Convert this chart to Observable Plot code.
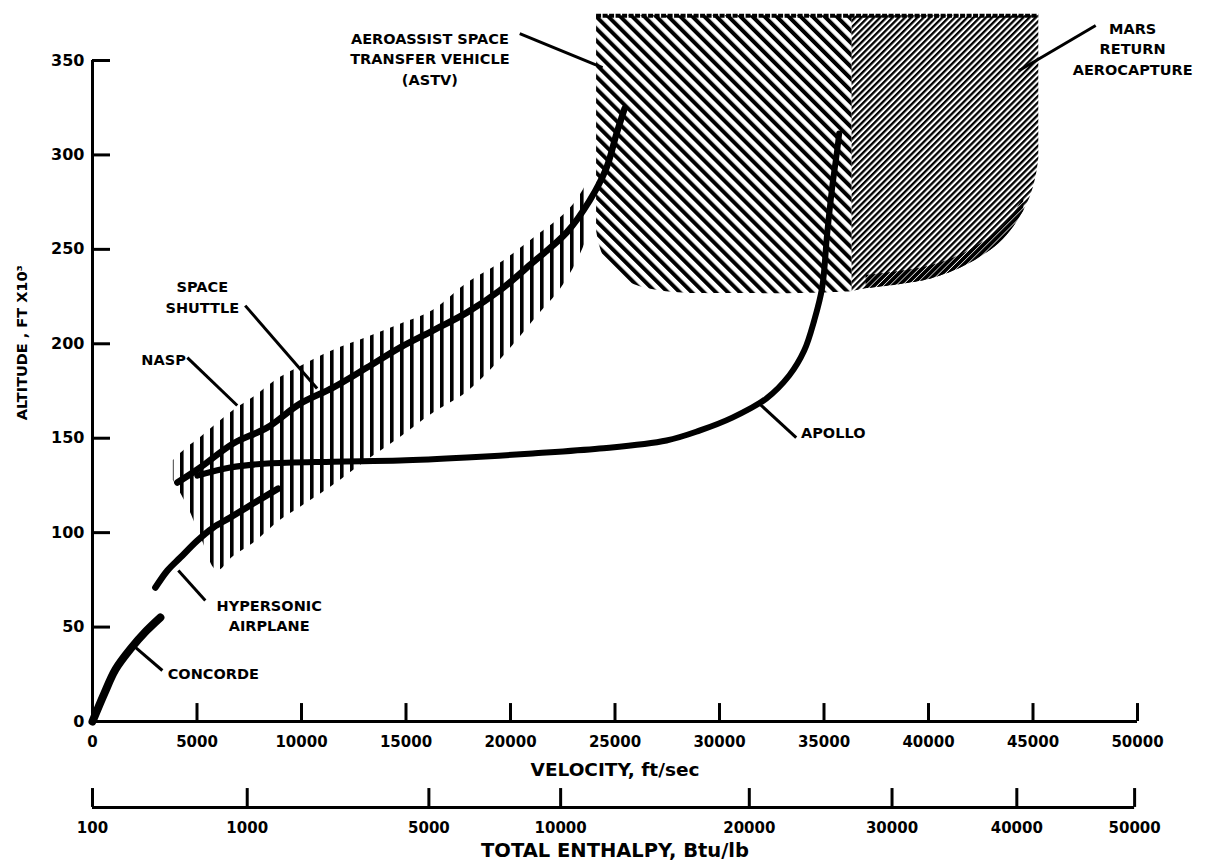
<!DOCTYPE html>
<html>
<head>
<meta charset="utf-8">
<script src="https://cdn.jsdelivr.net/npm/d3@7"></script>
<script src="https://cdn.jsdelivr.net/npm/@observablehq/plot@0.6"></script>
<style>
  html, body { margin: 0; padding: 0; background: #fff; }
  svg { display: block; }
</style>
</head>
<body>
<div id="chart"></div>
<script>
// ---------- data (velocity ft/sec, altitude ft x 10^3) ----------
const yTicks = [0, 50, 100, 150, 200, 250, 300, 350];
const xTicks = [0, 5000, 10000, 15000, 20000, 25000, 30000, 35000, 40000, 45000, 50000];
const enthLabels = ["100", "1000", "5000", "10000", "20000", "30000", "40000", "50000"];
const enthAtVelocity = [0, 7403, 16095, 22399, 31426, 38255, 44226, 49862];

const concordeV   = [0, 573, 1098, 1863, 2579, 3248];
const concordeAlt = [0, 15.0, 27.5, 39.0, 48.0, 55.1];

const hypersonicV   = [3009, 3582, 4203, 5015, 5779, 6591, 7689, 8883];
const hypersonicAlt = [70.9, 79.9, 86.8, 95.8, 102.7, 108.0, 115.4, 123.3];

const shuttleV   = [4060, 5158, 6734, 8358, 9934, 11510, 13134, 14710, 16286, 17910, 19486, 21062, 22686, 23785, 24596, 25074, 25456];
const shuttleAlt = [126.5, 134.5, 147.2, 155.6, 168.3, 176.8, 187.4, 198.0, 207.0, 216.5, 228.2, 243.0, 258.9, 275.8, 293.3, 311.3, 324.5];

const apolloV   = [5015, 6591, 8358, 11510, 14710, 17910, 21062, 24262, 27462, 29038, 30614, 32238, 33336, 34053, 34530, 34913, 35151, 35390, 35629, 35725];
const apolloAlt = [130.2, 134.5, 136.6, 137.6, 138.2, 139.8, 141.9, 144.5, 148.8, 154.0, 160.9, 171.0, 183.2, 196.4, 212.3, 229.8, 258.3, 282.7, 302.3, 311.3];

// NASP / shuttle corridor (hatched band)
const bandV     = [3869, 4537, 5158, 5970, 6734, 7689, 8979, 9934, 11510, 13134, 14710, 16286, 17910, 19486, 21396, 22351, 23163, 23785];
const bandUpper = [138.2, 145.1, 150.3, 157.8, 164.6, 171.5, 182.1, 187.9, 196.4, 203.3, 210.2, 217.6, 231.9, 242.5, 258.3, 266.3, 275.8, 287.5];
const bandLower = [127.6, 114.3, 98.5, 79.9, 87.3, 94.2, 106.4, 113.3, 124.9, 138.2, 150.3, 163.1, 174.2, 191.1, 216.0, 228.2, 243.0, 258.9];

// ASTV corridor
const astvV      = [24119, 24262, 24501, 24883, 25456, 26172, 27462, 29038, 30614, 33814, 36345];
const astvBottom = [259.9, 252.0, 245.1, 239.8, 234.0, 230.3, 227.6, 226.6, 226.6, 226.6, 227.6];
const corridorTop = 373.7;

// Mars return aerocapture corridor
const marsV      = [36345, 37013, 38590, 40166, 41790, 43366, 44082, 44560, 44942, 45181, 45277];
const marsBottom = [227.6, 229.2, 231.3, 234.5, 241.4, 253.0, 262.0, 270.5, 280.0, 290.6, 298.0];

// annotation labels (middle anchored)
const labelText = ["AEROASSIST SPACE\nTRANSFER VEHICLE\n(ASTV)", "MARS\nRETURN\nAEROCAPTURE", "SPACE\nSHUTTLE", "NASP", "HYPERSONIC\nAIRPLANE", "CONCORDE"];
const labelV    = [16143, 49766, 5254, 3400, 8453, 5779];
const labelAlt  = [351.5, 356.8, 225.5, 192.2, 56.6, 25.9];
// start anchored label
const apolloLabel = ["APOLLO"];
const apolloLabelV = [33900];
const apolloLabelAlt = [152.5];

// leader lines
const leaderV1   = [20442, 48000, 7307, 4537, 4107, 2054, 31903];
const leaderAlt1 = [364.2, 368.5, 220.2, 192.7, 79.9, 39.2, 168.3];
const leaderV2   = [24405, 44320, 10746, 6925, 5397, 3343, 33671];
const leaderAlt2 = [346.2, 344.6, 176.3, 167.3, 64.1, 27.0, 150.3];

// ---------- tables ----------
const pts = (vs, as) => vs.map((v, i) => ({v, a: as[i]}));
const concorde = pts(concordeV, concordeAlt);
const hypersonic = pts(hypersonicV, hypersonicAlt);
const shuttle = pts(shuttleV, shuttleAlt);
const apollo = pts(apolloV, apolloAlt);
const band = bandV.map((v, i) => ({v, lo: bandLower[i], hi: bandUpper[i]}));
const astv = astvV.map((v, i) => ({v, lo: astvBottom[i], hi: corridorTop}));
const mars = marsV.map((v, i) => ({v, lo: marsBottom[i], hi: corridorTop}));
const labels = labelText.map((t, i) => ({t, v: labelV[i], a: labelAlt[i]}));
const apolloLab = apolloLabel.map((t, i) => ({t, v: apolloLabelV[i], a: apolloLabelAlt[i]}));
const leaders = leaderV1.map((v, i) => ({v1: v, a1: leaderAlt1[i], v2: leaderV2[i], a2: leaderAlt2[i]}));
const enth = enthLabels.map((l, i) => ({l, v: enthAtVelocity[i]}));

const ENTH_AXIS = -45.5;   // second axis placed below the chart (altitude units)
const FONT = "DejaVu Sans";

const svg = Plot.plot({
  width: 1205,
  height: 861,
  marginLeft: 92,
  marginRight: 68,
  marginTop: 60,
  marginBottom: 140,
  x: {domain: [0, 50000]},
  y: {domain: [0, 350]},
  style: {fontFamily: FONT, fontWeight: "bold", background: "white", color: "black", overflow: "visible"},
  marks: [
    // hatched corridors
    Plot.areaY(band, {x: "v", y1: "lo", y2: "hi", fill: "url(#hatchV)", curve: "catmull-rom"}),
    Plot.areaY(astv, {x: "v", y1: "lo", y2: "hi", fill: "url(#hatchA)", curve: "catmull-rom"}),
    Plot.areaY(mars, {x: "v", y1: "lo", y2: "hi", fill: "url(#hatchM)", curve: "catmull-rom"}),
    // darker, blotchy rim along the bottom of the Mars corridor
    Plot.areaY(mars.slice(1, 8), {x: "v", y1: "lo", y2: d => d.lo + 7, fill: "url(#hatchDark)", curve: "catmull-rom"}),
    Plot.ruleY([corridorTop], {x1: astvV[0], x2: marsV[marsV.length - 1], stroke: "black", strokeWidth: 4, strokeDasharray: "5,1.5"}),

    // trajectories
    Plot.line(concorde, {x: "v", y: "a", stroke: "black", strokeWidth: 8, curve: "catmull-rom", strokeLinecap: "round"}),
    Plot.line(hypersonic, {x: "v", y: "a", stroke: "black", strokeWidth: 6.5, curve: "catmull-rom", strokeLinecap: "round"}),
    Plot.line(shuttle, {x: "v", y: "a", stroke: "black", strokeWidth: 6.5, curve: "catmull-rom", strokeLinecap: "round"}),
    Plot.line(apollo, {x: "v", y: "a", stroke: "black", strokeWidth: 6, curve: "catmull-rom", strokeLinecap: "round"}),

    // leaders and labels
    Plot.link(leaders, {x1: "v1", y1: "a1", x2: "v2", y2: "a2", stroke: "black", strokeWidth: 3}),
    Plot.text(labels, {x: "v", y: "a", text: "t", fontSize: 14.5, lineHeight: 1.42, textAnchor: "middle", fill: "black"}),
    Plot.text(apolloLab, {x: "v", y: "a", text: "t", fontSize: 14.5, textAnchor: "start", fill: "black"}),

    // main axes
    Plot.ruleX([0], {y1: 0, y2: 350, stroke: "black", strokeWidth: 3}),
    Plot.ruleY([0], {x1: 0, x2: 50000, stroke: "black", strokeWidth: 3}),
    Plot.ruleY(yTicks.slice(1), {x1: 0, x2: 860, stroke: "black", strokeWidth: 3}),
    Plot.ruleX(xTicks.slice(1), {y1: 0, y2: 9.5, stroke: "black", strokeWidth: 3}),
    Plot.axisY({ticks: yTicks, tickSize: 0, tickPadding: 8, fontSize: 16, tickFormat: "d"}),
    Plot.axisX({ticks: xTicks, tickSize: 0, tickPadding: 15, fontSize: 15, tickFormat: "d"}),
    Plot.text(["ALTITUDE , FT X10³"], {x: -3343, y: 200.6, rotate: -90, fontSize: 14.5, fill: "black"}),
    Plot.text(["VELOCITY, ft/sec"], {x: 25000, y: 0, dy: 49, fontSize: 18.5, fill: "black"}),

    // total enthalpy axis
    Plot.ruleY([ENTH_AXIS], {x1: enthAtVelocity[0], x2: enthAtVelocity[enthAtVelocity.length - 1], stroke: "black", strokeWidth: 3}),
    Plot.ruleX(enth, {x: "v", y1: ENTH_AXIS, y2: ENTH_AXIS + 10, stroke: "black", strokeWidth: 3}),
    Plot.text(enth, {x: "v", y: ENTH_AXIS, dy: 21, text: "l", fontSize: 15, fill: "black"}),
    Plot.text(["TOTAL ENTHALPY, Btu/lb"], {x: 25000, y: ENTH_AXIS, dy: 43, fontSize: 19.5, fill: "black"})
  ]
});

// hatch patterns
const defs = d3.select(svg).insert("defs", ":first-child");
defs.append("pattern").attr("id", "hatchV").attr("patternUnits", "userSpaceOnUse")
  .attr("width", 10).attr("height", 10)
  .append("rect").attr("x", 0).attr("y", 0).attr("width", 3.6).attr("height", 10).attr("fill", "black");
defs.append("pattern").attr("id", "hatchA").attr("patternUnits", "userSpaceOnUse")
  .attr("width", 8.5).attr("height", 8.5).attr("patternTransform", "rotate(-45)")
  .append("rect").attr("x", 0).attr("y", 0).attr("width", 4).attr("height", 8.5).attr("fill", "black");
defs.append("pattern").attr("id", "hatchM").attr("patternUnits", "userSpaceOnUse")
  .attr("width", 4.4).attr("height", 4.4).attr("patternTransform", "rotate(45)")
  .append("rect").attr("x", 0).attr("y", 0).attr("width", 2.3).attr("height", 4.4).attr("fill", "black");
defs.append("pattern").attr("id", "hatchDark").attr("patternUnits", "userSpaceOnUse")
  .attr("width", 4.4).attr("height", 4.4).attr("patternTransform", "rotate(45)")
  .append("rect").attr("x", 0).attr("y", 0).attr("width", 3.6).attr("height", 4.4).attr("fill", "black");

document.getElementById("chart").appendChild(svg);
</script>
</body>
</html>
